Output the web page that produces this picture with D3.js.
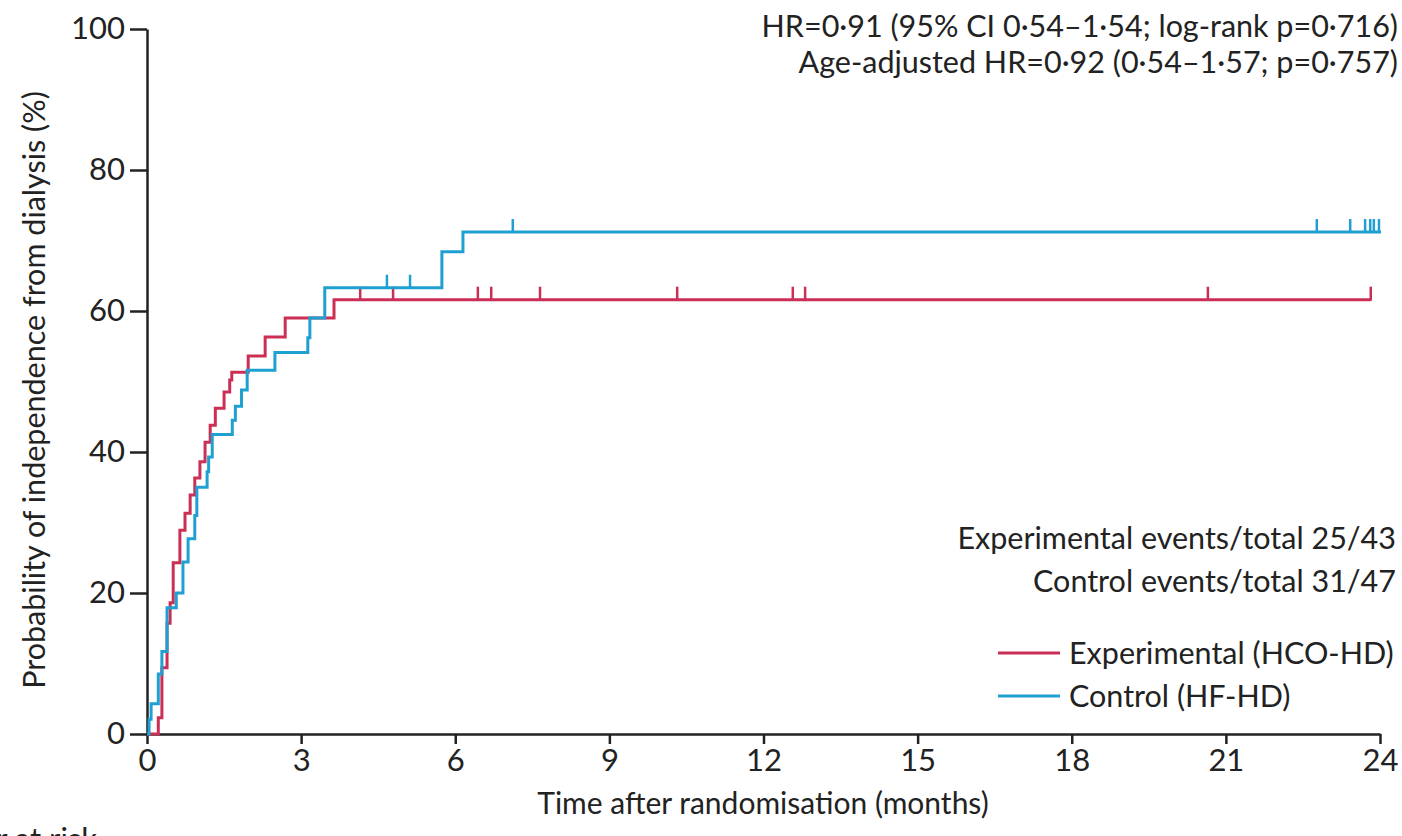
<!DOCTYPE html>
<html>
<head>
<meta charset="utf-8">
<script src="https://cdn.jsdelivr.net/npm/d3@7"></script>
<style>
  body { margin: 0; background: #fff; overflow: hidden; }
  svg text { font-family: Lato, "Open Sans", sans-serif; fill: #222; }
</style>
</head>
<body>
<svg id="chart" width="1402" height="836"></svg>
<script>
// Step points [months, %]
const experimentalSteps = [
  [0, 0], [0.22, 2.3], [0.29, 9.4], [0.39, 15.7], [0.45, 18.6], [0.51, 24.3],
  [0.64, 28.9], [0.74, 31.3], [0.84, 33.9], [0.93, 36.3], [1.03, 38.6],
  [1.13, 41.4], [1.23, 43.8], [1.33, 46.2], [1.50, 48.5], [1.61, 50.2],
  [1.65, 51.3], [1.97, 53.6], [2.30, 56.3], [2.69, 59.0], [3.64, 61.6]
];
const experimentalEnd = 23.82;
const experimentalCensored = [4.15, 4.79, 6.44, 6.70, 7.65, 10.32, 12.57, 12.81, 20.65, 23.82];

const controlSteps = [
  [0, 0], [0.04, 2.1], [0.08, 4.3], [0.22, 8.5], [0.29, 11.7], [0.39, 17.9],
  [0.57, 20.0], [0.70, 24.4], [0.80, 27.7], [0.93, 31.0], [0.97, 35.0],
  [1.17, 37.2], [1.20, 39.3], [1.27, 42.5], [1.66, 44.5], [1.72, 46.5],
  [1.84, 48.8], [1.95, 51.6], [2.49, 54.1], [3.13, 56.2], [3.17, 59.0],
  [3.46, 63.3], [5.74, 68.4], [6.15, 71.2]
];
const controlEnd = 24.02;
const controlCensored = [4.67, 5.12, 7.12, 22.77, 23.42, 23.71, 23.81, 23.88, 23.98];

const xTicks = [0, 3, 6, 9, 12, 15, 18, 21, 24];
const yTicks = [0, 20, 40, 60, 80, 100];

const statsLines = [
  'HR=0·91 (95% CI 0·54–1·54; log-rank p=0·716)',
  'Age-adjusted HR=0·92 (0·54–1·57; p=0·757)'
];
const eventLines = [
  'Experimental events/total 25/43',
  'Control events/total 31/47'
];
const legendItems = [
  { label: 'Experimental (HCO-HD)', color: '#cc2f55' },
  { label: 'Control (HF-HD)', color: '#1ea0d0' }
];

const svg = d3.select('#chart');
const x = d3.scaleLinear().domain([0, 24]).range([147, 1380]);
const y = d3.scaleLinear().domain([0, 100]).range([734, 29]);

// value of a step curve at time t
const valueAt = (steps, t) => {
  let v = steps[0][1];
  steps.forEach(s => { if (s[0] <= t) v = s[1]; });
  return v;
};

const line = d3.line().x(d => x(d[0])).y(d => y(d[1])).curve(d3.curveStepAfter);

const drawCurve = (steps, end, censored, color) => {
  const pts = steps.concat([[end, steps[steps.length - 1][1]]]);
  svg.append('path')
    .datum(pts)
    .attr('d', line)
    .attr('fill', 'none')
    .attr('stroke', color)
    .attr('stroke-width', 3);
  svg.append('g').selectAll('line')
    .data(censored)
    .enter()
    .append('line')
    .attr('x1', d => x(d)).attr('x2', d => x(d))
    .attr('y1', d => y(valueAt(steps, d)) + 1)
    .attr('y2', d => y(valueAt(steps, d)) - 13)
    .attr('stroke', color)
    .attr('stroke-width', 2.5);
};

// axes
const yAxis = svg.append('g')
  .attr('transform', `translate(${x(0)},0)`)
  .call(d3.axisLeft(y).tickValues(yTicks).tickSize(17).tickSizeOuter(0).tickPadding(5));
const xAxis = svg.append('g')
  .attr('transform', `translate(0,${y(0)})`)
  .call(d3.axisBottom(x).tickValues(xTicks).tickSize(10).tickSizeOuter(0).tickPadding(5));
[yAxis, xAxis].forEach(a => {
  a.selectAll('path, line').attr('stroke', '#222').attr('stroke-width', 2.5);
  a.selectAll('text').style('font-size', '31px').attr('fill', '#222');
});

drawCurve(experimentalSteps, experimentalEnd, experimentalCensored, legendItems[0].color);
drawCurve(controlSteps, controlEnd, controlCensored, legendItems[1].color);

// axis titles
svg.append('text')
  .attr('transform', 'translate(45,390) rotate(-90)')
  .attr('text-anchor', 'middle')
  .style('font-size', '30.5px')
  .text('Probability of independence from dialysis (%)');
svg.append('text')
  .attr('x', 763).attr('y', 814)
  .attr('text-anchor', 'middle')
  .style('font-size', '30px')
  .text('Time after randomisation (months)');

// annotations
svg.append('g').selectAll('text')
  .data(statsLines)
  .enter()
  .append('text')
  .attr('x', 1398).attr('y', (d, i) => 37 + i * 36)
  .attr('text-anchor', 'end')
  .style('font-size', '30.5px')
  .text(d => d);
svg.append('g').selectAll('text')
  .data(eventLines)
  .enter()
  .append('text')
  .attr('x', 1396).attr('y', (d, i) => 549 + i * 43)
  .attr('text-anchor', 'end')
  .style('font-size', '30.5px')
  .text(d => d);

const legend = svg.append('g').selectAll('g')
  .data(legendItems)
  .enter()
  .append('g')
  .attr('transform', (d, i) => `translate(998,${653 + i * 43})`);
legend.append('line')
  .attr('x1', 0).attr('x2', 62)
  .attr('stroke', d => d.color)
  .attr('stroke-width', 3);
legend.append('text')
  .attr('x', 71).attr('y', 11)
  .style('font-size', '30.5px')
  .text(d => d.label);

// cut-off caption below the chart
svg.append('text')
  .attr('x', 97).attr('y', 850)
  .attr('text-anchor', 'end')
  .style('font-size', '31px')
  .text('Number at risk');
</script>
</body>
</html>
